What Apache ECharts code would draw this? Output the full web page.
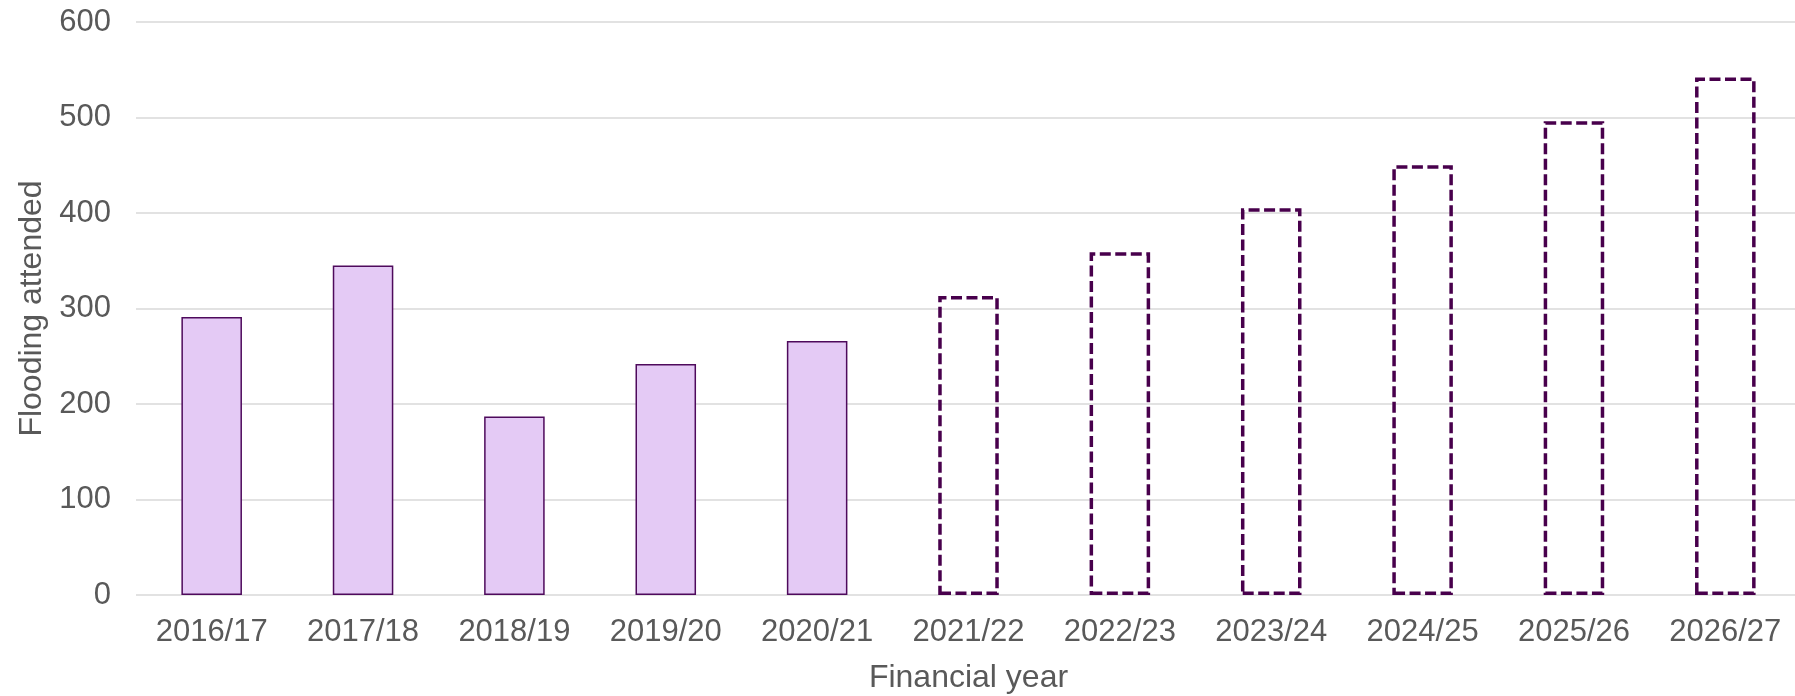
<!DOCTYPE html>
<html>
<head>
<meta charset="utf-8">
<title>Flooding attended by financial year</title>
<script src="https://cdn.jsdelivr.net/npm/echarts@6/dist/echarts.min.js"></script>
<style>
  html, body { margin: 0; padding: 0; background: #ffffff; overflow: hidden; }
  #chart { width: 1795px; height: 696px; }
</style>
</head>
<body>
<div id="chart"></div>
<script>
// Financial years on the x axis
const years = ['2016/17', '2017/18', '2018/19', '2019/20', '2020/21',
               '2021/22', '2022/23', '2023/24', '2024/25', '2025/26', '2026/27'];
// Recorded flooding incidents attended ('-' where no actual figure)
const actual = [291, 345, 187, 242, 266, '-', '-', '-', '-', '-', '-'];
// Projected flooding incidents attended
const projected = ['-', '-', '-', '-', '-', 313, 359, 405, 450, 496, 542];
// Y axis tick values
const yTicks = [0, 100, 200, 300, 400, 500, 600];

const textColor = '#595959';
const font = 'Liberation Sans, Arial, sans-serif';

const chart = echarts.init(document.getElementById('chart'), null, { renderer: 'canvas' });

chart.setOption({
  animation: false,
  backgroundColor: '#ffffff',
  // plot area runs slightly past the right edge of the canvas
  grid: {
    left: 136, width: 1665, top: 22, bottom: 101,
    containLabel: false,
    outerBoundsMode: 'none'
  },
  xAxis: {
    type: 'category',
    data: years,
    name: 'Financial year',
    nameLocation: 'middle',
    nameGap: 67,
    nameTextStyle: { color: textColor, fontSize: 32, fontFamily: font },
    axisLine: { show: false },
    axisTick: { show: false },
    axisLabel: { color: textColor, fontSize: 31, fontFamily: font, margin: 22, interval: 0 }
  },
  yAxis: {
    type: 'value',
    min: yTicks[0],
    max: yTicks[yTicks.length - 1],
    interval: yTicks[1] - yTicks[0],
    name: 'Flooding attended',
    nameLocation: 'middle',
    nameGap: 84,
    nameTextStyle: { color: textColor, fontSize: 32, fontFamily: font },
    axisLine: { show: false },
    axisTick: { show: false },
    axisLabel: { color: textColor, fontSize: 31, fontFamily: font, margin: 25 },
    splitLine: { lineStyle: { color: '#d9d9d9', width: 1.5 } }
  },
  series: [
    {
      name: 'Actual',
      type: 'bar',
      data: actual,
      barWidth: '40%',
      barGap: '-100%',
      itemStyle: { color: '#e4caf5', borderColor: '#4e0a5c', borderWidth: 1.5 }
    },
    {
      name: 'Projected',
      type: 'bar',
      data: projected,
      barWidth: '40%',
      barGap: '-100%',
      itemStyle: {
        color: 'rgba(255,255,255,0)',
        borderColor: '#48004c',
        borderWidth: 3.5,
        borderType: [11, 4.5]
      }
    }
  ]
});
</script>
</body>
</html>
